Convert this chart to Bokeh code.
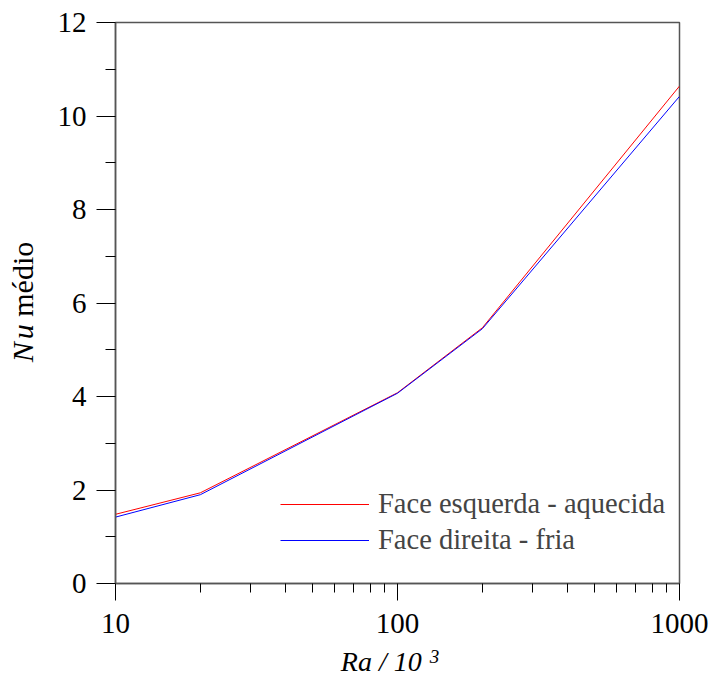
from bokeh.plotting import figure
from bokeh.layouts import row, column
from bokeh.models import (Div, FixedTicker, Legend, LegendItem,
                          PrintfTickFormatter, Range1d)
from bokeh.embed import file_html
from bokeh.resources import INLINE

# ---- data ----
ra = [10, 20, 100, 200, 1000]
nu_hot = [1.48, 1.94, 4.08, 5.47, 10.64]
nu_cold = [1.42, 1.90, 4.07, 5.45, 10.42]

x_major = [10, 100, 1000]
x_labels = ["10", "100", "1000"]
y_major = [0, 2, 4, 6, 8, 10, 12]
y_minor = [1, 3, 5, 7, 9, 11]
legend_labels = ["Face esquerda - aquecida", "Face direita - fria"]
x_title = ("Ra / 10", "3")
y_title = ("N", "u", "médio")

FONT = "Liberation Serif"
YDIV_W = 50
P_H = 645

p = figure(width=709 - YDIV_W, height=P_H, x_axis_type="log",
           x_range=Range1d(10, 1000), y_range=Range1d(0, 12),
           output_backend="svg", toolbar_location=None,
           min_border_left=115 - YDIV_W, min_border_right=30,
           min_border_top=22, min_border_bottom=P_H - 583)

p.xgrid.visible = False
p.ygrid.visible = False
p.outline_line_color = "#555555"
p.outline_line_width = 1.5
p.background_fill_color = "white"
p.border_fill_color = "white"

x_minor = [m * d for d in x_major[:-1] for m in range(2, 10)]

xa = p.xaxis[0]
xa.ticker = FixedTicker(ticks=x_major, minor_ticks=x_minor)
xa.formatter = PrintfTickFormatter(format="%d")
xa.major_label_overrides = {t: s for t, s in zip(x_major, x_labels)}
ya = p.yaxis[0]
ya.ticker = FixedTicker(ticks=y_major, minor_ticks=y_minor)

for ax in (xa, ya):
    ax.axis_line_color = "#555555"
    ax.axis_line_width = 1.5
    ax.major_tick_line_color = "black"
    ax.minor_tick_line_color = "black"
    ax.major_tick_in = 0
    ax.minor_tick_in = 0
    ax.major_label_text_font = FONT
    ax.major_label_text_font_size = "29px"
    ax.major_label_text_color = "black"

xa.major_tick_out = 17
xa.minor_tick_out = 9
xa.major_label_standoff = 13
ya.major_tick_out = 19
ya.minor_tick_out = 10
ya.major_label_standoff = 10

r1 = p.line(ra, nu_hot, line_color="#ff0000", line_width=1)
r2 = p.line(ra, nu_cold, line_color="#0000ff", line_width=1)

legend = Legend(items=[LegendItem(label=legend_labels[0], renderers=[r1]),
                       LegendItem(label=legend_labels[1], renderers=[r2])],
                location=(165, 25), border_line_color=None,
                background_fill_alpha=0, padding=0, margin=0, spacing=0,
                glyph_width=89, glyph_height=36, label_height=36,
                label_standoff=9, label_text_font=FONT,
                label_text_font_size="28.5px", label_text_baseline="middle")
p.add_layout(legend)

# ---- axis titles with mixed italic / superscript as HTML text ----
base = ("position:absolute; white-space:nowrap; color:black; "
        "font-family:'Liberation Serif';")

y_html = (
    f'<div style="position:relative; width:{YDIV_W}px; height:677px;">'
    f'<div style="{base} line-height:30px; font-size:30px; left:23px; top:302px; '
    f'transform:translate(-50%,-50%) rotate(-90deg);">'
    f'<i>{y_title[0]}<span style="margin-left:3px;">{y_title[1]}</span></i> '
    f'{y_title[2]}</div></div>'
)
ydiv = Div(text=y_html, width=YDIV_W, height=677, margin=0)

XDIV_H = 677 - P_H
baseline = 671 - P_H  # baseline of the x title inside the div
x_html = (
    f'<div style="position:relative; width:{709 - YDIV_W}px; height:{XDIV_H}px;">'
    f'<div style="{base} line-height:20px; font-size:28px; font-style:italic; '
    f'left:{390 - YDIV_W}px; top:{baseline - 19}px; transform:translateX(-50%);">'
    f'{x_title[0]}<span style="font-size:19px; position:relative; top:-8px; '
    f'margin-left:8px;">{x_title[1]}</span></div></div>'
)
xdiv = Div(text=x_html, width=709 - YDIV_W, height=XDIV_H, margin=0)

layout = row(ydiv, column(p, xdiv, spacing=0), spacing=0)

open("out.html", "w").write(file_html(layout, INLINE))
